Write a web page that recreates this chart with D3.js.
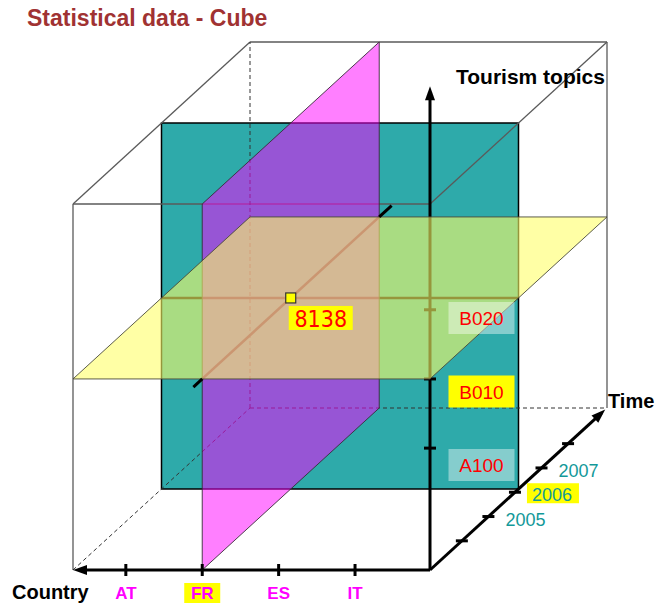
<!DOCTYPE html>
<html>
<head>
<meta charset="utf-8">
<script src="https://cdn.jsdelivr.net/npm/d3@7"></script>
<style>
  body { margin: 0; background: #fff; }
  text { font-family: "Liberation Sans", Arial, sans-serif; }
</style>
</head>
<body>
<div class="container"></div>
<script>
const w = 658;
const h = 603;

// Cube dimensions
const countries = ['AT', 'FR', 'ES', 'IT'];
const topics = ['A100', 'B010', 'B020'];
const years = [2005, 2006, 2007];
const yearTicks = [2004, 2005, 2006, 2007, 2008];

// Selected cell
const selCountry = 'FR';
const selTopic = 'B010';
const selYear = 2006;
const cellValue = 8138;

// Oblique projection: u = country, v = topic, d = time (depth)
const xScale = d3.scaleLinear().domain([0, 1]).range([73, 430]);
const yScale = d3.scaleLinear().domain([0, 1]).range([570, 204]);
const dxScale = d3.scaleLinear().domain([0, 1]).range([0, 177]);
const dyScale = d3.scaleLinear().domain([0, 1]).range([0, -162]);
const proj = (u, v, d) => [xScale(u) + dxScale(d), yScale(v) + dyScale(d)];

const countryScale = d3.scalePoint().domain(countries).range([0.148, 0.79]);
const topicScale = d3.scalePoint().domain(topics).range([0.333, 0.711]);
const timeScale = d3.scaleLinear().domain([2004, 2008]).range([0.18, 0.78]);
const topicLabelY = d3.scalePoint().domain(topics).range([465, 318]);

const uSel = countryScale(selCountry);
const vSel = topicScale(selTopic);
const dSel = timeScale(selYear) + 0.02;

const line = d3.line();
const poly = (pts) => line(pts) + 'Z';

const svg = d3.select('.container')
  .append('svg')
  .attr('width', w)
  .attr('height', h)
  .style('display', 'block');

// Title
svg.append('text')
  .attr('x', 27)
  .attr('y', 26)
  .style('font-size', '23px')
  .style('font-weight', 'bold')
  .attr('fill', '#a03232')
  .text('Statistical data - Cube');

// Time slice (teal)
svg.append('path')
  .attr('d', poly([proj(0, 0, dSel), proj(1, 0, dSel), proj(1, 1, dSel), proj(0, 1, dSel)]))
  .attr('fill', '#2eaaaa')
  .attr('stroke', '#000')
  .attr('stroke-width', 1.5);

// Cube edges
const solidEdges = [
  [[0, 1, 0], [1, 1, 0]],
  [[0, 0, 0], [0, 1, 0]],
  [[0, 1, 0], [0, 1, 1]],
  [[1, 1, 0], [1, 1, 1]],
  [[0, 1, 1], [1, 1, 1]],
  [[1, 0, 1], [1, 1, 1]]
];
const hiddenEdges = [
  [[0, 0, 1], [0, 1, 1]],
  [[0, 0, 1], [1, 0, 1]],
  [[0, 0, 0], [0, 0, 1]]
];
svg.selectAll('.edge')
  .data(solidEdges)
  .enter()
  .append('path')
  .attr('class', 'edge')
  .attr('d', (e) => line(e.map((p) => proj(...p))))
  .attr('stroke', '#5a5a5a')
  .attr('stroke-width', 1.3)
  .attr('fill', 'none');
svg.selectAll('.hidden-edge')
  .data(hiddenEdges)
  .enter()
  .append('path')
  .attr('class', 'hidden-edge')
  .attr('d', (e) => line(e.map((p) => proj(...p))))
  .attr('stroke', '#333')
  .attr('stroke-width', 1)
  .attr('stroke-dasharray', '4,3')
  .attr('fill', 'none');

// Intersection lines (under the translucent planes)
svg.append('path')
  .attr('d', line([proj(0, vSel, dSel), proj(1, vSel, dSel)]))
  .attr('stroke', '#000')
  .attr('stroke-width', 2.5);
svg.append('path')
  .attr('d', line([proj(uSel, vSel, 0), proj(uSel, vSel, 1)]))
  .attr('stroke', '#000')
  .attr('stroke-width', 2.5);

// Tourism topics axis
svg.append('path')
  .attr('d', line([proj(1, 0, 0), proj(1, 1.29, 0)]))
  .attr('stroke', '#000')
  .attr('stroke-width', 3);
svg.selectAll('.topic-tick')
  .data(topics)
  .enter()
  .append('path')
  .attr('class', 'topic-tick')
  .attr('d', (d) => {
    const p = proj(1, topicScale(d), 0);
    return line([[p[0] - 6, p[1]], [p[0] + 6, p[1]]]);
  })
  .attr('stroke', '#000')
  .attr('stroke-width', 3);

// Country slice (magenta)
svg.append('path')
  .attr('d', poly([proj(uSel, 0, 0), proj(uSel, 1, 0), proj(uSel, 1, 1), proj(uSel, 0, 1)]))
  .attr('fill', '#ff00ff')
  .attr('fill-opacity', 0.5)
  .attr('stroke', '#3a2a3a')
  .attr('stroke-width', 0.9);

// Topic slice (yellow)
svg.append('path')
  .attr('d', poly([proj(0, vSel, 0), proj(1, vSel, 0), proj(1, vSel, 1), proj(0, vSel, 1)]))
  .attr('fill', '#ffff66')
  .attr('fill-opacity', 0.59)
  .attr('stroke', '#4a4a3a')
  .attr('stroke-width', 0.9);

// Ends of the country/topic intersection
svg.append('path')
  .attr('d', line([proj(uSel, vSel, -0.05), proj(uSel, vSel, 0)]))
  .attr('stroke', '#000')
  .attr('stroke-width', 3);
svg.append('path')
  .attr('d', line([proj(uSel, vSel, 1), proj(uSel, vSel, 1.07)]))
  .attr('stroke', '#000')
  .attr('stroke-width', 3);

// Arrow heads
const arrow = (tip, from) => {
  const ang = Math.atan2(tip[1] - from[1], tip[0] - from[0]);
  const len = 14;
  const hw = 5;
  const bx = tip[0] - len * Math.cos(ang);
  const by = tip[1] - len * Math.sin(ang);
  return poly([tip,
    [bx + hw * Math.sin(ang), by - hw * Math.cos(ang)],
    [bx - hw * Math.sin(ang), by + hw * Math.cos(ang)]]);
};
svg.append('path')
  .attr('d', arrow(proj(1, 1.322, 0), proj(1, 0, 0)))
  .attr('fill', '#000');

// Country axis
svg.append('path')
  .attr('d', line([proj(1, 0, 0), proj(0.02, 0, 0)]))
  .attr('stroke', '#000')
  .attr('stroke-width', 3);
svg.append('path')
  .attr('d', arrow(proj(0, 0, 0), proj(1, 0, 0)))
  .attr('fill', '#000');
svg.selectAll('.country-tick')
  .data(countries)
  .enter()
  .append('path')
  .attr('class', 'country-tick')
  .attr('d', (d) => {
    const p = proj(countryScale(d), 0, 0);
    return line([[p[0], p[1] - 6], [p[0], p[1] + 6]]);
  })
  .attr('stroke', '#000')
  .attr('stroke-width', 3);

// Time axis
svg.append('path')
  .attr('d', line([proj(1, 0, 0), proj(1, 0, 0.97)]))
  .attr('stroke', '#000')
  .attr('stroke-width', 3);
svg.append('path')
  .attr('d', arrow(proj(1, 0, 0.99), proj(1, 0, 0)))
  .attr('fill', '#000');
svg.selectAll('.time-tick')
  .data(yearTicks)
  .enter()
  .append('path')
  .attr('class', 'time-tick')
  .attr('d', (d) => {
    const p = proj(1, 0, timeScale(d));
    return line([[p[0] - 6, p[1]], [p[0] + 6, p[1]]]);
  })
  .attr('stroke', '#000')
  .attr('stroke-width', 3);

// Selected cell
const cell = proj(uSel, vSel, dSel);
svg.append('rect')
  .attr('x', cell[0] - 5)
  .attr('y', cell[1] - 5)
  .attr('width', 10)
  .attr('height', 10)
  .attr('fill', '#ffff00')
  .attr('stroke', '#333')
  .attr('stroke-width', 1.2);
svg.append('rect')
  .attr('x', cell[0] - 2)
  .attr('y', cell[1] + 8)
  .attr('width', 64)
  .attr('height', 24)
  .attr('fill', '#ffff00');
svg.append('text')
  .attr('x', cell[0] + 30)
  .attr('y', cell[1] + 29)
  .attr('text-anchor', 'middle')
  .style('font-family', '"DejaVu Sans Condensed", "Liberation Sans", sans-serif')
  .style('font-size', '23px')
  .attr('fill', '#ff0000')
  .text(cellValue);

// Topic labels
const topicLabels = svg.selectAll('.topic-label')
  .data(topics)
  .enter()
  .append('g')
  .attr('class', 'topic-label')
  .attr('transform', (d) => 'translate(' + (proj(1, 0, dSel)[0] - 37) + ',' + topicLabelY(d) + ')');
topicLabels.append('rect')
  .attr('x', -33)
  .attr('y', -16)
  .attr('width', 66)
  .attr('height', 32)
  .attr('fill', (d) => (d === selTopic ? '#ffff00' : '#ffffff'))
  .attr('fill-opacity', (d) => (d === selTopic ? 1 : 0.42));
topicLabels.append('text')
  .attr('y', 7)
  .attr('text-anchor', 'middle')
  .style('font-size', '19px')
  .attr('fill', '#ff0000')
  .text((d) => d);

// Year labels
const yearLabels = svg.selectAll('.year-label')
  .data(years)
  .enter()
  .append('g')
  .attr('class', 'year-label')
  .attr('transform', (d) => {
    const p = proj(1, 0, timeScale(d));
    return 'translate(' + (p[0] + 17) + ',' + (p[1] + 9) + ')';
  });
yearLabels.filter((d) => d === selYear)
  .append('rect')
  .attr('x', -5)
  .attr('y', -18)
  .attr('width', 52)
  .attr('height', 20)
  .attr('fill', '#ffff00');
yearLabels.append('text')
  .style('font-size', '18px')
  .attr('fill', '#139999')
  .text((d) => d);

// Country labels
const countryLabels = svg.selectAll('.country-label')
  .data(countries)
  .enter()
  .append('g')
  .attr('class', 'country-label')
  .attr('transform', (d) => 'translate(' + proj(countryScale(d), 0, 0)[0] + ',599)');
countryLabels.filter((d) => d === selCountry)
  .append('rect')
  .attr('x', -18)
  .attr('y', -16)
  .attr('width', 36)
  .attr('height', 21)
  .attr('fill', '#ffff00');
countryLabels.append('text')
  .attr('text-anchor', 'middle')
  .style('font-size', '17px')
  .style('font-weight', 'bold')
  .attr('fill', '#ff00ff')
  .text((d) => d);

// Axis titles
svg.append('text')
  .attr('x', 12)
  .attr('y', 599)
  .style('font-size', '20px')
  .style('font-weight', 'bold')
  .text('Country');
svg.append('text')
  .attr('x', 456)
  .attr('y', 84)
  .style('font-size', '21px')
  .style('font-weight', 'bold')
  .text('Tourism topics');
svg.append('text')
  .attr('x', 608)
  .attr('y', 408)
  .style('font-size', '20px')
  .style('font-weight', 'bold')
  .text('Time');
</script>
</body>
</html>
